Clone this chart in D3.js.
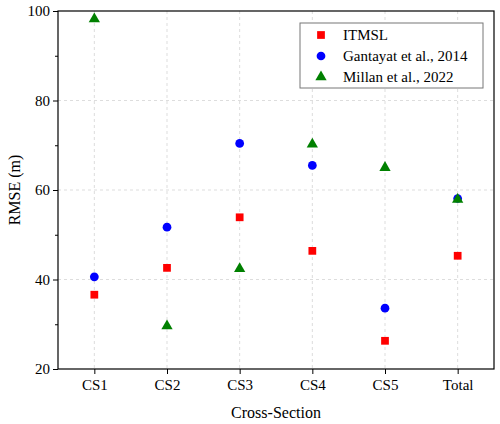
<!DOCTYPE html>
<html><head><meta charset="utf-8">
<script src="https://cdn.jsdelivr.net/npm/d3@7"></script>
<style>body{margin:0;background:#fff}text{font-family:"Liberation Serif",serif}</style>
</head><body><svg id="c" width="500" height="424"></svg>
<script>
const categories = ['CS1', 'CS2', 'CS3', 'CS4', 'CS5', 'Total'];
const itmsl = [36.6, 42.6, 53.9, 46.4, 26.3, 45.3];
const gantayat = [40.6, 51.7, 70.4, 65.5, 33.6, 58.1];
const millan = [98.2, 29.6, 42.4, 70.2, 65.0, 57.9];
const yTicks = [20, 40, 60, 80, 100];
const minorTicks = [30, 50, 70, 90];

const m = {l: 58, r: 6, t: 11, b: 55};
const W = 500, H = 424;
const svg = d3.select('#c');
const x = d3.scalePoint().domain(categories).range([m.l, W - m.r]).padding(0.5);
const y = d3.scaleLinear().domain([20, 100]).range([H - m.b, m.t]);

// grid
svg.selectAll('.gy').data(yTicks.slice(1, -1)).join('line')
  .attr('x1', m.l).attr('x2', W - m.r).attr('y1', d => y(d)).attr('y2', d => y(d))
  .attr('stroke', '#ddd').attr('stroke-dasharray', '3,3');
svg.selectAll('.gx').data(categories).join('line')
  .attr('x1', d => x(d)).attr('x2', d => x(d)).attr('y1', m.t).attr('y2', H - m.b)
  .attr('stroke', '#ddd').attr('stroke-dasharray', '3,3');

svg.append('g').attr('transform', `translate(${m.l},0)`)
  .call(d3.axisLeft(y).tickValues(yTicks).tickSize(5).tickPadding(3))
  .call(g => g.selectAll('text').attr('font-size', 15).attr('fill', '#000'));
svg.append('g').attr('transform', `translate(${m.l},0)`)
  .call(d3.axisLeft(y).tickValues(minorTicks).tickSize(3).tickFormat(''));
svg.append('g').attr('transform', `translate(0,${H - m.b})`)
  .call(d3.axisBottom(x).tickSize(5).tickPadding(5))
  .call(g => g.selectAll('text').attr('font-size', 15).attr('fill', '#000'));
svg.selectAll('.domain').remove();
svg.append('rect').attr('x', m.l).attr('y', m.t).attr('width', W - m.r - m.l).attr('height', H - m.b - m.t)
  .attr('fill', 'none').attr('stroke', '#000').attr('stroke-width', 1.2);

svg.append('text').attr('x', (m.l + W - m.r) / 2).attr('y', 418).attr('text-anchor', 'middle')
  .attr('font-size', 16).text('Cross-Section');
svg.append('text').attr('transform', `translate(20,${(m.t + H - m.b) / 2}) rotate(-90)`)
  .attr('text-anchor', 'middle').attr('font-size', 16).text('RMSE (m)');

const sq = d3.symbol().type(d3.symbolSquare).size(60);
const ci = d3.symbol().type(d3.symbolCircle).size(60);
const tr = d3.symbol().type(d3.symbolTriangle).size(55);
const series = [
  {name: 'ITMSL', vals: itmsl, sym: sq, col: '#ff0000'},
  {name: 'Gantayat et al., 2014', vals: gantayat, sym: ci, col: '#0000ff'},
  {name: 'Millan et al., 2022', vals: millan, sym: tr, col: '#008000'}
];
series.forEach(s => {
  svg.append('g').selectAll('path').data(s.vals).join('path')
    .attr('d', s.sym).attr('fill', s.col)
    .attr('transform', (d, i) => `translate(${x(categories[i])},${y(d)})`);
});

const lg = svg.append('g').attr('transform', 'translate(300,23)');
lg.append('rect').attr('width', 183).attr('height', 65).attr('fill', '#fff').attr('stroke', '#777');
series.forEach((s, i) => {
  lg.append('path').attr('d', s.sym).attr('fill', s.col).attr('transform', `translate(21,${12 + i * 21})`);
  lg.append('text').attr('x', 43).attr('y', 17 + i * 21).attr('font-size', 15).text(s.name);
});
</script></body></html>
